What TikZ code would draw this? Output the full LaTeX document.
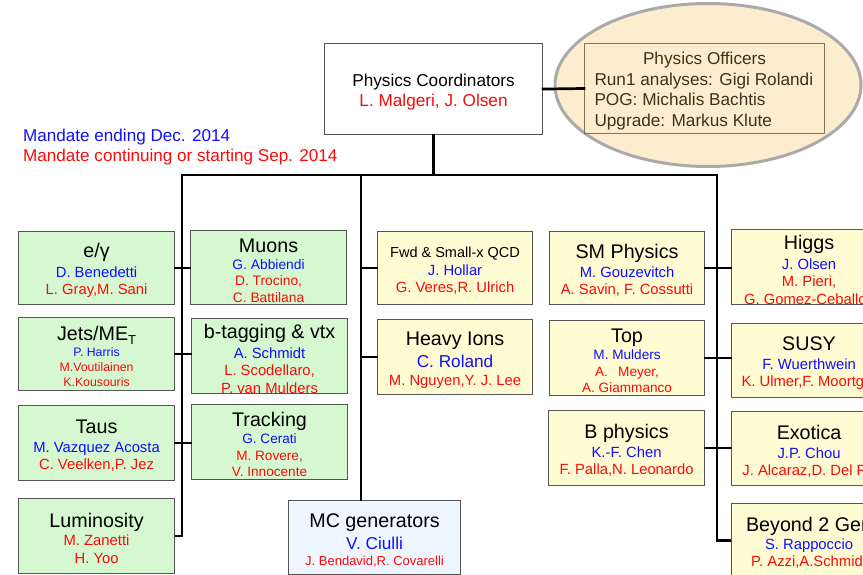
\documentclass[tikz,border=0pt]{standalone}
\usepackage{fontspec}
\setmainfont{Liberation Sans}
\usetikzlibrary{shapes.geometric}
\definecolor{greenf}{RGB}{214,248,208}
\definecolor{yellowf}{RGB}{255,252,212}
\definecolor{bluef}{RGB}{238,246,255}
\definecolor{ovalf}{RGB}{252,237,206}
\definecolor{ovald}{RGB}{170,170,170}
\definecolor{offline}{RGB}{135,115,80}
\definecolor{offtext}{RGB}{62,50,28}
\definecolor{boxline}{RGB}{85,85,85}
\definecolor{nblue}{RGB}{15,15,250}
\definecolor{nred}{RGB}{250,10,10}
\newcommand\Ttl[1]{{\fontsize{19.7}{20}\selectfont\rule{0pt}{19.5pt}#1}}
\newcommand\Bl[1]{\textcolor{nblue}{#1}}
\newcommand\Rd[1]{\textcolor{nred}{#1}}
\newcommand\fs[2]{\fontsize{#1}{#2}\selectfont\lineskiplimit=-100pt\relax}
\tikzset{
  grp/.style={draw=boxline, line width=1.1pt, anchor=north west, align=center, inner sep=0pt, font=\fs{14.8}{17}},
  conn/.style={line width=2.7pt, line cap=rect},
}
\begin{document}
\begin{tikzpicture}[x=1pt,y=-1pt]
\useasboundingbox (0,0) rectangle (863,575);
\clip (0,0) rectangle (863,575);
% officers oval
\node[ellipse, draw=ovald, line width=3pt, fill=ovalf, minimum width=306pt, minimum height=163pt, inner sep=0pt] (oval) at (708,85) {};
% coordinators
\node[grp, fill=white, minimum width=218pt, minimum height=91pt, font=\fs{17.2}{20}] (coord) at (324,43) {\rule{0pt}{18.5pt}Physics Coordinators\\ \Rd{L. Malgeri, J. Olsen}};
\node[draw=offline, line width=1pt, anchor=north west, minimum width=240pt, minimum height=90pt, inner sep=0pt, align=center, text=offtext, font=\fs{17.2}{20.7}] (officers) at (584,43)
  {\rule{0pt}{17.5pt}Physics Officers\\ \makebox[220pt][l]{Run1 analyses: Gigi Rolandi}\\ \makebox[220pt][l]{POG: Michalis Bachtis}\\ \makebox[220pt][l]{Upgrade: Markus Klute}};
% legend
\node[anchor=north west, inner sep=0pt, align=left, font=\fs{17.1}{20}] (legend) at (23,128.5) {\Bl{Mandate ending Dec. 2014}\\ \Rd{Mandate continuing or starting Sep. 2014}};
% groups: left
\node[grp, fill=greenf, minimum width=156pt, minimum height=73pt] (egamma) at (18,231) {\Ttl{e/γ}\\[3pt] \Bl{D. Benedetti}\\ \Rd{L. Gray,M. Sani}};
\node[grp, fill=greenf, minimum width=156pt, minimum height=73pt, font=\fs{12.3}{15}] (jets) at (18,317) {\Ttl{Jets/ME\raisebox{-0.33ex}{\fontsize{13}{13}\selectfont T}}\\[1pt] \Bl{P. Harris}\\ \Rd{M.Voutilainen}\\ \Rd{K.Kousouris}};
\node[grp, fill=greenf, minimum width=156pt, minimum height=75pt] (taus) at (18,405) {\Ttl{Taus}\\[2pt] \Bl{M. Vazquez Acosta}\\ \Rd{C. Veelken,P. Jez}};
\node[grp, fill=greenf, minimum width=156pt, minimum height=75pt, font=\fs{14.8}{18}] (lumi) at (18,498) {\Ttl{Luminosity}\\ \Rd{M. Zanetti}\\ \Rd{H. Yoo}};
\node[grp, fill=greenf, minimum width=156pt, minimum height=74pt, font=\fs{13.8}{16.7}] (muons) at (190,230) {\Ttl{Muons}\\[0.3pt] \Bl{G. Abbiendi}\\ \Rd{D. Trocino,}\\ \Rd{C. Battilana}};
\node[grp, fill=greenf, minimum width=156pt, minimum height=74pt, font=\fs{14.8}{17.5}] (btag) at (191,318) {\Ttl{b-tagging \& vtx}\\[2.5pt] \Bl{A. Schmidt}\\ \Rd{L. Scodellaro,}\\ \Rd{P. van Mulders}};
\node[grp, fill=greenf, minimum width=156pt, minimum height=75pt, font=\fs{13.6}{16.3}] (tracking) at (191,404) {\Ttl{Tracking}\\[0.7pt] \Bl{G. Cerati}\\ \Rd{M. Rovere,}\\ \Rd{V. Innocente}};
\node[grp, fill=bluef, minimum width=172pt, minimum height=74pt, font=\fs{13}{16}] (mc) at (288,500) {\Ttl{MC generators}\\[6pt] {\fontsize{17.2}{18}\selectfont\Bl{V. Ciulli}}\\ \Rd{J. Bendavid,R. Covarelli}};
% groups: centre
\node[grp, fill=yellowf, minimum width=155pt, minimum height=73pt] (fwd) at (377,231) {{\fontsize{14.5}{15}\selectfont\rule{0pt}{16.3pt}Fwd \& Small-x QCD}\\[1pt] \Bl{J. Hollar}\\ \Rd{G. Veres,R. Ulrich}};
\node[grp, fill=yellowf, minimum width=155pt, minimum height=75pt, font=\fs{14.8}{18}] (hi) at (377,319) {\Ttl{Heavy Ions}\\[4pt] {\fontsize{17.2}{18}\selectfont\Bl{C. Roland}}\\ \Rd{M. Nguyen,Y. J. Lee}};
\node[grp, fill=yellowf, minimum width=155pt, minimum height=73pt] (sm) at (549,231) {\Ttl{SM Physics}\\[2pt] \Bl{M. Gouzevitch}\\ \Rd{A. Savin, F. Cossutti}};
\node[grp, fill=yellowf, minimum width=155pt, minimum height=75pt, font=\fs{13.6}{16.7}] (top) at (549,320) {\Ttl{Top}\\[0.3pt] \Bl{M. Mulders}\\ \Rd{A.\hspace{0.75em}Meyer,}\\ \Rd{A. Giammanco}};
\node[grp, fill=yellowf, minimum width=156pt, minimum height=75pt] (bphys) at (548,410) {\Ttl{B physics}\\[2pt] \Bl{K.-F. Chen}\\ \Rd{F. Palla,N. Leonardo}};
% groups: right
\node[grp, fill=yellowf, minimum width=155pt, minimum height=75pt, font=\fs{14.8}{17.5}] (higgs) at (731,229) {\Ttl{Higgs}\\[2.5pt] \Bl{J. Olsen}\\ \Rd{M. Pieri,}\\ \Rd{G. Gomez-Ceballos}};
\node[grp, fill=yellowf, minimum width=155pt, minimum height=74pt] (susy) at (731,323) {\Ttl{SUSY}\\[2pt] \Bl{F. Wuerthwein}\\ \Rd{K. Ulmer,F. Moortgat}};
\node[grp, fill=yellowf, minimum width=155pt, minimum height=74pt, font=\fs{14.8}{16.5}] (exotica) at (731,411) {\Ttl{Exotica}\\[2.5pt] \Bl{J.P. Chou}\\ \Rd{J. Alcaraz,D. Del Re}};
\node[grp, fill=yellowf, minimum width=155pt, minimum height=74pt] (b2g) at (731,503) {\Ttl{Beyond 2 Gen}\\[1pt] \Bl{S. Rappoccio}\\ \Rd{P. Azzi,A.Schmidt}};
% bus
\coordinate (bL) at (182,175);
\coordinate (bM) at (361,175);
\coordinate (bR) at (717,175);
\draw[conn] (coord.east) -- (officers.west);
\draw[conn] (coord.south) -- (coord.south |- bL);
\draw[conn] (bL) -- (bR);
\draw[conn, line cap=butt] (bL) |- (lumi.east);
\draw[conn] (egamma.east) -- (egamma.east -| muons.west);
\draw[conn] (jets.east) -- (jets.east -| btag.west);
\draw[conn] (taus.east) -- (taus.east -| tracking.west);
\draw[conn] (bM) -- (bM |- mc.north);
\draw[conn] (fwd.west) -- (fwd.west -| bM);
\draw[conn] (hi.west) -- (hi.west -| bM);
\draw[conn, line cap=butt] (bR) |- (b2g.west);
\draw[conn] (sm.east) -- (sm.east -| higgs.west);
\draw[conn] (top.east) -- (top.east -| susy.west);
\draw[conn] (bphys.east) -- (bphys.east -| exotica.west);
\end{tikzpicture}
\end{document}
